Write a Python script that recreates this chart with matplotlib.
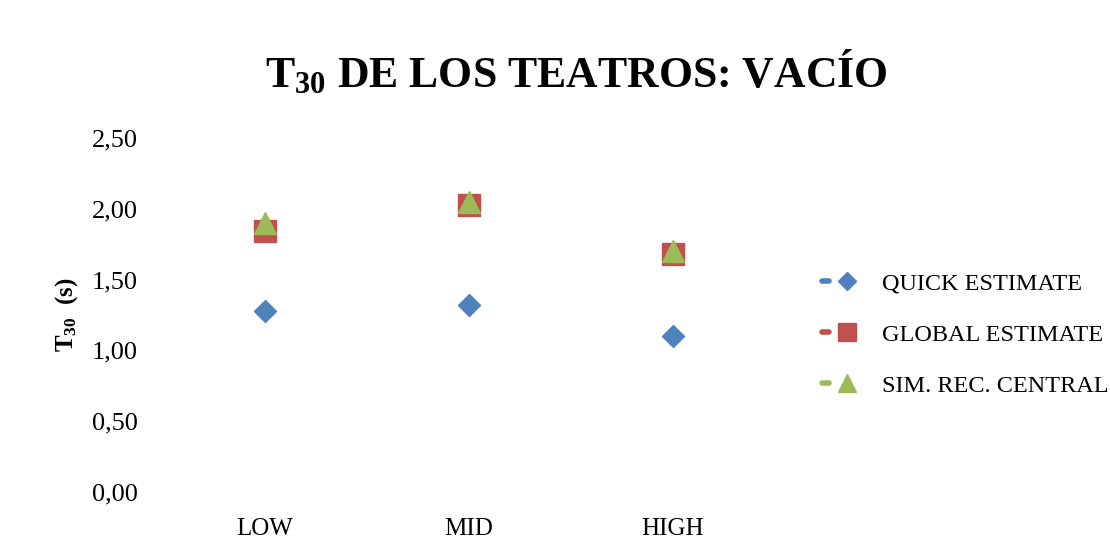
import matplotlib
matplotlib.use("Agg")
import matplotlib.pyplot as plt
from matplotlib.lines import Line2D
from matplotlib.legend_handler import HandlerBase
from matplotlib.ticker import FuncFormatter

plt.rcParams['font.family'] = ['Liberation Serif', 'DejaVu Serif']
plt.rcParams['mathtext.default'] = 'regular'

categories = ["LOW", "MID", "HIGH"]
quick_estimate = [1.28, 1.32, 1.10]
global_estimate = [1.84, 2.03, 1.68]
sim_rec_central = [1.90, 2.05, 1.70]
series_names = ["QUICK ESTIMATE", "GLOBAL ESTIMATE", "SIM. REC. CENTRAL"]
y_ticks = [0.0, 0.5, 1.0, 1.5, 2.0, 2.5]

blue = "#4F81BD"
red = "#C0504D"
green = "#9BBB59"

fig = plt.figure(figsize=(11.10, 5.39), dpi=100)
ax = fig.add_axes([163 / 1110, 47 / 539, 612 / 1110, 354 / 539])

x = list(range(len(categories)))
ax.plot(x, quick_estimate, linestyle="none", marker="D", ms=11.5, color=blue, mec=blue)
ax.plot(x, global_estimate, linestyle="none", marker="s", ms=15.5, color=red, mec=red)
ax.plot(x, sim_rec_central, linestyle="none", marker="^", ms=16, color=green, mec=green)

ax.set_xlim(-0.5, 2.5)
ax.set_ylim(0, 2.5)
ax.set_xticks(x)
ax.set_xticklabels(categories)
ax.set_yticks(y_ticks)
ax.yaxis.set_major_formatter(FuncFormatter(lambda v, p: f"{v:.2f}".replace(".", ",")))
ax.tick_params(axis="both", length=0, labelsize=18)
ax.tick_params(axis="y", pad=18, labelsize=19)
ax.tick_params(axis="x", pad=19)
for s in ax.spines.values():
    s.set_visible(False)

fig.text(67 / 1110, 1 - 315 / 539, "T$_{30}$  (s)", rotation=90, ha="center",
         va="center", fontsize=18, fontweight="bold")

fig.text(576 / 1110, 1 - 87 / 539, "T$_{30}$ DE LOS TEATROS: VACÍO", ha="center",
         va="baseline", fontsize=31.5, fontweight="bold")


class DashMarkerHandler(HandlerBase):
    """Short rounded dash followed by the series marker."""

    def create_artists(self, legend, orig_handle, xdescent, ydescent,
                       width, height, fontsize, trans):
        color, marker, ms = orig_handle
        yc = height / 2 - ydescent
        dash = Line2D([3 - xdescent, 8 - xdescent], [yc, yc], color=color, lw=4,
                      solid_capstyle="round", transform=trans)
        mk = Line2D([width - 8 - xdescent], [yc], linestyle="none", marker=marker,
                    ms=ms, color=color, mec=color, transform=trans)
        return [dash, mk]


handles = [(blue, "D", 9.5), (red, "s", 12.5), (green, "^", 13.5)]
fig.legend(handles, series_names, loc="center left",
           bbox_to_anchor=(818 / 1110, 1 - 334.5 / 539), frameon=False,
           fontsize=17.5, handler_map={tuple: DashMarkerHandler()},
           handlelength=1.65, handletextpad=0.99, labelspacing=1.21,
           borderpad=0, borderaxespad=0)

fig.savefig("out.png", dpi=100)
